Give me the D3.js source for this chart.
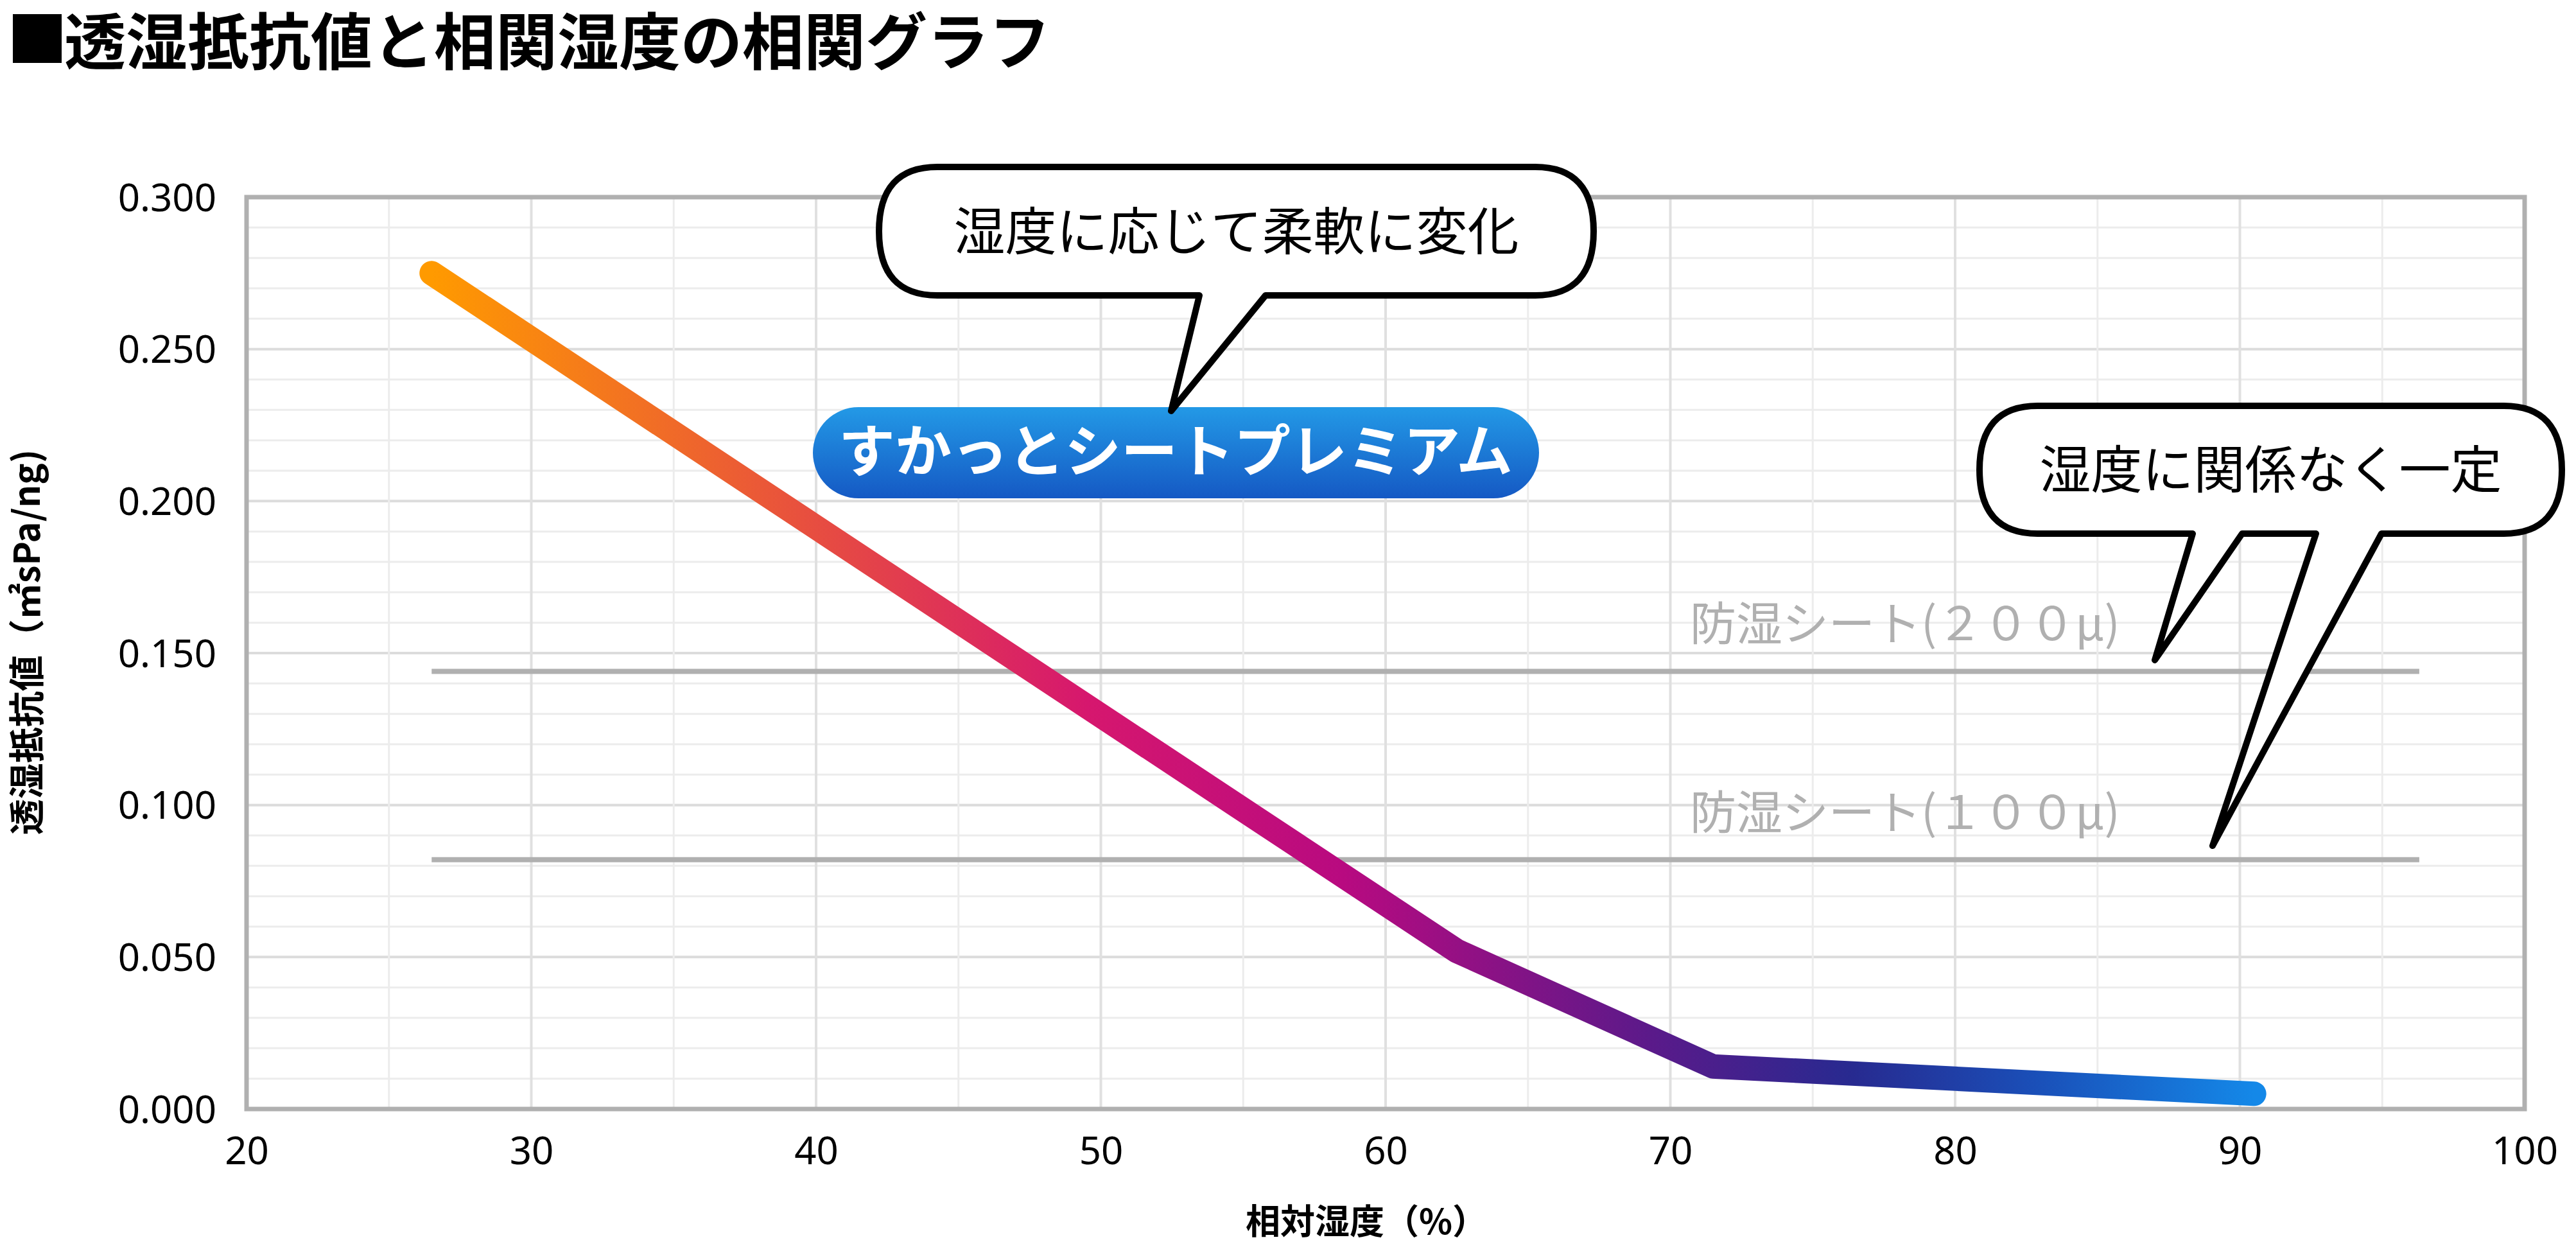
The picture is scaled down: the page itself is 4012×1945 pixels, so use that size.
<!DOCTYPE html>
<html><head><meta charset="utf-8">
<script src="https://cdn.jsdelivr.net/npm/d3@7"></script>
<style>body{margin:0;background:#fff}svg{display:block}text{font-family:"Noto Sans CJK JP","Noto Sans",sans-serif}</style>
</head><body><svg id="c" width="4012" height="1945"></svg>
<script>
const humidity=[26.5,62.5,71.5,90.5];
const resistance=[0.275,0.052,0.014,0.005];
const sheet200=0.144, sheet100=0.082, sheetRange=[26.5,96.3];
const xTicks=[20,30,40,50,60,70,80,90,100];
const yTicks=[0,0.05,0.1,0.15,0.2,0.25,0.3];
const svg=d3.select("#c");
const L=384,R=3932,T=307,B=1727;
const x=d3.scaleLinear().domain([20,100]).range([L,R]);
const y=d3.scaleLinear().domain([0,0.3]).range([B,T]);
// title
svg.append("rect").attr("x",20).attr("y",22).attr("width",76).attr("height",76).attr("fill","#000");
svg.append("text").attr("x",100).attr("y",100).attr("font-size",96).attr("font-weight",700).text("透湿抵抗値と相関湿度の相関グラフ");
// grid
const g=svg.append("g");
g.selectAll(".my").data(d3.range(0,0.3001,0.01)).join("line").attr("x1",L).attr("x2",R).attr("y1",d=>y(d)).attr("y2",d=>y(d)).attr("stroke","#ececec").attr("stroke-width",3);
g.selectAll(".My").data(yTicks).join("line").attr("x1",L).attr("x2",R).attr("y1",d=>y(d)).attr("y2",d=>y(d)).attr("stroke","#dcdcdc").attr("stroke-width",4);
g.selectAll(".mx").data(d3.range(20,100.1,5)).join("line").attr("y1",T).attr("y2",B).attr("x1",d=>x(d)).attr("x2",d=>x(d)).attr("stroke","#ececec").attr("stroke-width",3);
g.selectAll(".Mx").data(xTicks).join("line").attr("y1",T).attr("y2",B).attr("x1",d=>x(d)).attr("x2",d=>x(d)).attr("stroke","#e0e0e0").attr("stroke-width",4);
svg.append("rect").attr("x",L).attr("y",T).attr("width",R-L).attr("height",B-T).attr("fill","none").attr("stroke","#b0b0b0").attr("stroke-width",7);
// axes
const xa=svg.append("g").attr("transform",`translate(0,${B+38})`).call(d3.axisBottom(x).tickValues(xTicks).tickSize(0).tickFormat(d3.format("d")));
xa.select(".domain").remove();
xa.selectAll("text").attr("font-size",60).attr("fill","#000").attr("dy","0.75em").style("font-family","'Noto Sans',sans-serif");
const ya=svg.append("g").attr("transform",`translate(${L-44},0)`).call(d3.axisLeft(y).tickValues(yTicks).tickSize(0).tickFormat(d3.format(".3f")));
ya.select(".domain").remove();
ya.selectAll("text").attr("font-size",60).attr("fill","#000").attr("dy","0.35em").style("font-family","'Noto Sans',sans-serif");
svg.append("text").attr("x",(L+R)/2-30).attr("y",1922).attr("text-anchor","middle").attr("font-size",54).attr("font-weight",700).text("相対湿度（%）");
svg.append("text").attr("transform","translate(62,1000) rotate(-90)").attr("text-anchor","middle").attr("font-size",56).attr("font-weight",700).text("透湿抵抗値（㎡sPa/ng)");
// reference lines
[sheet200,sheet100].forEach((v,i)=>{
 svg.append("line").attr("x1",x(sheetRange[0])).attr("x2",x(sheetRange[1])).attr("y1",y(v)).attr("y2",y(v)).attr("stroke","#b0b0b0").attr("stroke-width",8);
 svg.append("text").attr("x",2632).attr("y",y(v)-48).attr("font-size",72).attr("fill","#b0b0b0").text(i==0?"防湿シート(２００μ)":"防湿シート(１００μ)");
});
// gradient line
const defs=svg.append("defs");
const lg=defs.append("linearGradient").attr("id","lg").attr("gradientUnits","userSpaceOnUse").attr("x1",x(humidity[0])).attr("x2",x(humidity[3])).attr("y1",0).attr("y2",0);
[[0,"#ff9a00"],[0.36,"#d6176e"],[0.5,"#b80a80"],[0.67,"#5a1a8a"],[0.78,"#272a90"],[0.88,"#1a4fb8"],[1,"#1488e8"]].forEach(s=>lg.append("stop").attr("offset",s[0]).attr("stop-color",s[1]));
svg.append("path").attr("d",d3.line().x(d=>x(d[0])).y(d=>y(d[1]))(humidity.map((h,i)=>[h,resistance[i]]))).attr("fill","none").attr("stroke","url(#lg)").attr("stroke-width",38).attr("stroke-linecap","round").attr("stroke-linejoin","round");
// premium pill
const bg=defs.append("linearGradient").attr("id","bg").attr("x1",0).attr("x2",0).attr("y1",0).attr("y2",1);
bg.append("stop").attr("offset",0).attr("stop-color","#2399e6");bg.append("stop").attr("offset",1).attr("stop-color","#1559c4");
svg.append("rect").attr("x",1266).attr("y",634).attr("width",1131).attr("height",142).attr("rx",71).attr("fill","url(#bg)");
svg.append("text").attr("x",1831).attr("y",734).attr("text-anchor","middle").attr("font-size",88).attr("font-weight",700).attr("fill","#fff").text("すかっとシートプレミアム");
// callouts
function bubble(x0,y0,w,h,tails,label,fs){
 const r=h/2.2;
 let d=`M${x0+r},${y0} H${x0+w-r} Q${x0+w},${y0} ${x0+w},${y0+h/2} Q${x0+w},${y0+h} ${x0+w-r},${y0+h} `;
 const ts=tails.slice().sort((a,b)=>b[1]-a[1]);
 ts.forEach(t=>{d+=`H${t[1]} L${t[2]},${t[3]} L${t[0]},${y0+h} `;});
 d+=`H${x0+r} Q${x0},${y0+h} ${x0},${y0+h/2} Q${x0},${y0} ${x0+r},${y0} Z`;
 svg.append("path").attr("d",d).attr("fill","#fff").attr("stroke","#000").attr("stroke-width",10).attr("stroke-linejoin","round");
 svg.append("text").attr("x",x0+w/2).attr("y",y0+h/2).attr("dy","0.36em").attr("text-anchor","middle").attr("font-size",fs).text(label);
}
bubble(1369,260,1113,200,[[1868,1971,1824,640]],"湿度に応じて柔軟に変化",80);
bubble(3083,632,907,199,[[3415,3492,3356,1028],[3607,3709,3446,1317]],"湿度に関係なく一定",80);
</script></body></html>
